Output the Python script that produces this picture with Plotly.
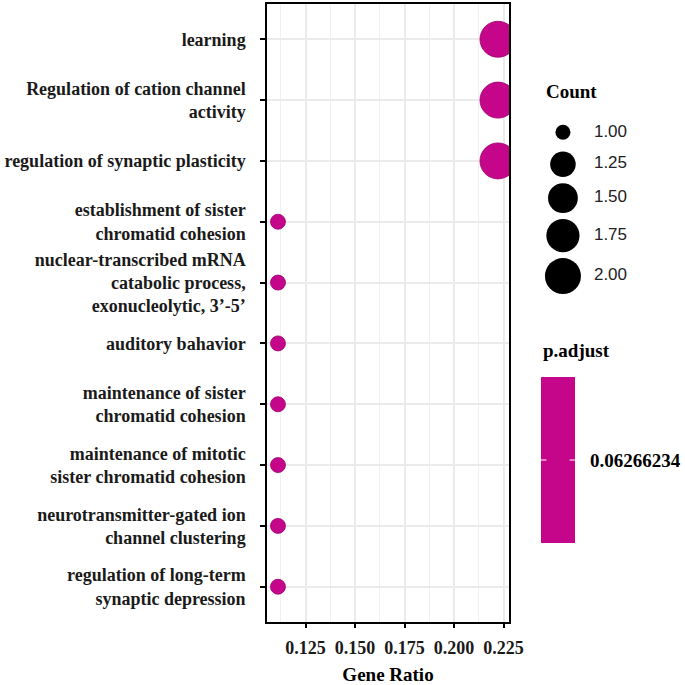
import numpy as np
import plotly.graph_objects as go

# GO terms, top to bottom
terms = [
    "learning",
    "Regulation of cation channel<br>activity",
    "regulation of synaptic plasticity",
    "establishment of sister<br>chromatid cohesion",
    "nuclear-transcribed mRNA<br>catabolic process,<br>exonucleolytic, 3’-5’",
    "auditory bahavior",
    "maintenance of sister<br>chromatid cohesion",
    "maintenance of mitotic<br>sister chromatid cohesion",
    "neurotransmitter-gated ion<br>channel clustering",
    "regulation of long-term<br>synaptic depression",
]
gene_ratio = [0.2222, 0.2222, 0.2222, 0.1111, 0.1111, 0.1111, 0.1111, 0.1111, 0.1111, 0.1111]
count = [2, 2, 2, 1, 1, 1, 1, 1, 1, 1]
p_adjust = [0.06266234] * 10

count_breaks = [1.00, 1.25, 1.50, 1.75, 2.00]
count_break_labels = ["1.00", "1.25", "1.50", "1.75", "2.00"]
p_break = 0.06266234
p_break_label = "0.06266234"

DOT = "#C5068A"
SERIF = "Liberation Serif"
SCALE = [[0, DOT], [1, DOT]]
P_MIN, P_MAX = p_break - 0.00006, p_break + 0.00006

# ggplot-like area scale for point size (diameter in px)
def dot_size(c, lo=15, hi=36, cmin=1.0, cmax=2.0):
    c = np.asarray(c, dtype=float)
    return lo + (hi - lo) * np.sqrt((c - cmin) / (cmax - cmin))

fig = go.Figure()

fig.add_trace(go.Scatter(
    x=gene_ratio, y=terms, mode="markers",
    marker=dict(
        size=dot_size(count), sizemode="diameter", opacity=1,
        color=p_adjust, cmin=P_MIN, cmax=P_MAX, colorscale=SCALE, showscale=False,
        line=dict(color="#9C006C", width=0.8),
    ),
    showlegend=False, hoverinfo="x+y",
))

# manual size legend ("Count")
leg_sizes = dot_size(count_breaks)
key_h = np.maximum(leg_sizes + 6, 32)
leg_y = 132 + np.concatenate([[0], np.cumsum((key_h[:-1] + key_h[1:]) / 2)])
fig.add_trace(go.Scatter(
    x=[563] * len(count_breaks), y=leg_y, mode="markers",
    marker=dict(size=leg_sizes, color="black", opacity=1, line=dict(width=0)),
    xaxis="x2", yaxis="y2", showlegend=False, hoverinfo="skip",
))
fig.add_trace(go.Scatter(
    x=[594] * len(count_breaks), y=leg_y, mode="text",
    text=count_break_labels, textposition="middle right",
    textfont=dict(family="Liberation Sans", size=17, color="#222222"),
    xaxis="x2", yaxis="y2", showlegend=False, hoverinfo="skip",
))

# p.adjust colour bar drawn as a one-cell heatmap
fig.add_trace(go.Heatmap(
    z=[[p_break]], x=[0, 1], y=[P_MIN, P_MAX],
    zmin=P_MIN, zmax=P_MAX, colorscale=SCALE, showscale=False,
    xaxis="x3", yaxis="y3", hoverinfo="skip",
))
for x0, x1 in [(0, 0.16), (0.84, 1)]:
    fig.add_shape(type="line", xref="x3", yref="y3", x0=x0, x1=x1,
                  y0=p_break, y1=p_break, line=dict(color="white", width=1))
fig.add_annotation(
    text=p_break_label, xref="x3", yref="y3", x=1, y=p_break,
    xanchor="left", yanchor="middle", xshift=13, showarrow=False,
    font=dict(family=SERIF, size=19, color="black", weight="bold"),
)

for txt, xp, py in [("Count", 0.663, 91), ("p.adjust", 0.655, 350)]:
    fig.add_annotation(
        text=txt, x=xp, y=(622 - py) / 618, xref="paper", yref="paper",
        xanchor="left", yanchor="middle", showarrow=False,
        font=dict(family=SERIF, size=19, color="black", weight="bold"),
    )

fig.update_layout(
    width=685, height=685,
    margin=dict(l=267, r=0, t=4, b=63),
    plot_bgcolor="white", paper_bgcolor="white",
    xaxis=dict(
        domain=[0, 0.579], automargin=False,
        range=[0.10556, 0.22778],
        tickvals=[0.125, 0.150, 0.175, 0.200, 0.225],
        ticktext=["0.125", "0.150", "0.175", "0.200", "0.225"],
        showgrid=True, gridcolor="#EBEBEB", gridwidth=1.8,
        minor=dict(tickvals=[0.1125, 0.1375, 0.1625, 0.1875, 0.2125],
                   showgrid=True, gridcolor="#F0F0F0", gridwidth=1),
        zeroline=False,
        showline=True, linecolor="black", linewidth=1.5, mirror=True,
        ticks="outside", ticklen=4, tickcolor="black", tickwidth=1.5,
        ticklabelstandoff=5,
        tickfont=dict(family=SERIF, size=18, color="#1a1a1a", weight="bold"),
        title=dict(text="Gene Ratio", standoff=15,
                   font=dict(family=SERIF, size=19, color="black", weight="bold")),
    ),
    yaxis=dict(
        type="category", categoryarray=terms, automargin=False,
        range=[9.58, -0.58],
        showgrid=True, gridcolor="#EBEBEB", gridwidth=1.8,
        zeroline=False,
        showline=True, linecolor="black", linewidth=1.5, mirror=True,
        ticks="outside", ticklen=5, tickcolor="black", tickwidth=1.5,
        ticklabelstandoff=11,
        tickfont=dict(family=SERIF, size=18, color="#1a1a1a", weight="bold"),
    ),
    xaxis2=dict(domain=[0.629, 1.0], range=[530, 685], visible=False,
                fixedrange=True, automargin=False),
    yaxis2=dict(domain=[0.521, 0.828], range=[300, 110], visible=False, fixedrange=True,
                anchor="x2", automargin=False),
    xaxis3=dict(domain=[0.6555, 0.7368], range=[0, 1], visible=False,
                fixedrange=True, automargin=False),
    yaxis3=dict(domain=[0.1278, 0.3964], range=[P_MIN, P_MAX], visible=False,
                fixedrange=True, anchor="x3", automargin=False),
)

fig.write_html("out.html", config={"displayModeBar": False},
               post_script="document.body.style.margin='0';")
